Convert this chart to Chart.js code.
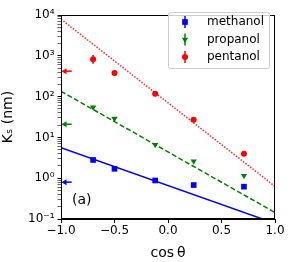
<!DOCTYPE html>
<html>
<head>
<meta charset="utf-8">
<script src="https://cdn.jsdelivr.net/npm/chart.js@4.4.0/dist/chart.umd.min.js"></script>
<style>
  html, body { margin: 0; padding: 0; background: #fff; }
  #wrap { width: 291px; height: 262px; }
</style>
</head>
<body>
<div id="wrap"><canvas id="ksChart" width="291" height="262"></canvas></div>
<script>
const cosTheta = [-0.7, -0.5, -0.12, 0.24, 0.71];
const methanolKs = [2.8, 1.7, 0.88, 0.68, 0.62];
const propanolKs = [55, 29, 6.6, 2.6, 1.15];
const pentanolKs = [820, 380, 118, 27, 4.0];
const pentanolLow = [640, 320, 108, 24, 3.6];
const pentanolHigh = [1050, 450, 130, 30, 4.4];

// fitted lines, values at cos = -1 and cos = 1
const fitX = [-1, 1];
const methanolFit = [5.6, 0.078];
const propanolFit = [135, 0.144];
const pentanolFit = [7900, 0.63];

// reference values marked by arrows on the left axis
const arrowKs = [420, 21, 0.8];
const arrowColors = ['#ff0000', '#008000', '#0000ff'];

const seriesNames = ['methanol', 'propanol', 'pentanol'];
const seriesColors = ['#0000ff', '#008000', '#ff0000'];
const xTicks = [-1, -0.5, 0, 0.5, 1];
const yMajor = [0.1, 1, 10, 100, 1000, 10000];
const yMajorLabels = ['10\u207B\u00B9', '10\u2070', '10\u00B9', '10\u00B2', '10\u00B3', '10\u2074'];

const FONT = 'DejaVu Sans';
const markerStyles = ['rect', 'triangle', 'circle'];
const markerRadius = [4, 3.6, 3];

function pts(xs, ys) {
    return xs.map((x, i) => ({ x: x, y: ys[i] }));
}

const extras = {
    id: 'extras',
    afterDatasetsDraw(chart) {
        const ctx = chart.ctx;
        const xs = chart.scales.x, ys = chart.scales.y;
        const a = chart.chartArea;
        ctx.save();

        // error bars for pentanol
        ctx.strokeStyle = '#ff0000';
        ctx.lineWidth = 1.5;
        cosTheta.forEach((c, i) => {
            const px = xs.getPixelForValue(c);
            ctx.beginPath();
            ctx.moveTo(px, ys.getPixelForValue(pentanolLow[i]));
            ctx.lineTo(px, ys.getPixelForValue(pentanolHigh[i]));
            ctx.stroke();
        });

        // arrows pointing at the axis
        arrowKs.forEach((v, i) => {
            const py = ys.getPixelForValue(v);
            const x0 = xs.getPixelForValue(-0.995);
            const x1 = xs.getPixelForValue(-0.9);
            ctx.strokeStyle = arrowColors[i];
            ctx.fillStyle = arrowColors[i];
            ctx.lineWidth = 1.5;
            ctx.beginPath();
            ctx.moveTo(x0 + 3, py);
            ctx.lineTo(x1, py);
            ctx.stroke();
            ctx.beginPath();
            ctx.moveTo(x0, py);
            ctx.lineTo(x0 + 5, py - 3);
            ctx.lineTo(x0 + 5, py + 3);
            ctx.closePath();
            ctx.fill();
        });

        // box around the plot
        ctx.strokeStyle = '#000';
        ctx.lineWidth = 1;
        ctx.strokeRect(a.left + 0.5, a.top + 0.5, a.right - a.left - 1, a.bottom - a.top - 1);

        // panel label
        ctx.fillStyle = '#000';
        ctx.font = '14px "' + FONT + '"';
        ctx.textBaseline = 'middle';
        ctx.textAlign = 'left';
        ctx.fillText('(a)', a.left + 11, a.bottom - 19);

        // legend
        const lx = 168, ly = 12, lw = 101, lh = 56;
        ctx.fillStyle = 'rgba(255,255,255,0.8)';
        ctx.strokeStyle = '#cccccc';
        ctx.lineWidth = 1;
        ctx.beginPath();
        ctx.roundRect(lx + 0.5, ly + 0.5, lw, lh, 2);
        ctx.fill();
        ctx.stroke();
        seriesNames.forEach((name, i) => {
            const yy = ly + 10 + i * 17.5;
            const mx = lx + 17;
            ctx.strokeStyle = seriesColors[i];
            ctx.lineWidth = 1.5;
            ctx.beginPath();
            ctx.moveTo(mx, yy - 6);
            ctx.lineTo(mx, yy + 6);
            ctx.stroke();
            ctx.fillStyle = seriesColors[i];
            Chart.helpers.drawPoint(ctx, {
                pointStyle: markerStyles[i], radius: markerRadius[i], borderWidth: 0,
                rotation: i === 1 ? 180 : 0
            }, mx, yy);
            ctx.fillStyle = '#000';
            ctx.font = '12px "' + FONT + '"';
            ctx.textAlign = 'left';
            ctx.fillText(name, lx + 39, yy);
        });
        ctx.restore();
    }
};

const ctx = document.getElementById('ksChart').getContext('2d');
const ksChart = new Chart(ctx, {
    type: 'scatter',
    data: {
        datasets: [
            {
                type: 'line', data: pts(fitX, methanolFit), borderColor: '#0000ff',
                borderWidth: 1.5, pointRadius: 0, fill: false
            },
            {
                type: 'line', data: pts(fitX, propanolFit), borderColor: '#008000',
                borderWidth: 1.5, borderDash: [5, 2.5], pointRadius: 0, fill: false
            },
            {
                type: 'line', data: pts(fitX, pentanolFit), borderColor: 'rgba(255,0,0,0.85)',
                borderWidth: 1.5, borderDash: [1.5, 1.5], pointRadius: 0, fill: false
            },
            {
                label: seriesNames[0], data: pts(cosTheta, methanolKs),
                pointStyle: 'rect', pointRadius: markerRadius[0], backgroundColor: '#0000ff', borderWidth: 0
            },
            {
                label: seriesNames[1], data: pts(cosTheta, propanolKs),
                pointStyle: 'triangle', rotation: 180, pointRadius: markerRadius[1], backgroundColor: '#008000', borderWidth: 0
            },
            {
                label: seriesNames[2], data: pts(cosTheta, pentanolKs),
                pointStyle: 'circle', pointRadius: markerRadius[2], backgroundColor: '#ff0000', borderWidth: 0
            }
        ]
    },
    options: {
        responsive: false,
        animation: false,
        layout: { padding: { left: 0, right: 16, top: 15, bottom: 0 } },
        plugins: { legend: { display: false }, tooltip: { enabled: false } },
        scales: {
            x: {
                type: 'linear', min: -1, max: 1,
                afterBuildTicks: s => { s.ticks = xTicks.map(v => ({ value: v })); },
                afterFit: s => { s.height = 43; },
                ticks: {
                    color: '#000', font: { family: FONT, size: 12 }, padding: 1,
                    maxRotation: 0,
                    callback: v => v.toFixed(1).replace('-', '\u2212')
                },
                grid: { drawOnChartArea: false, tickLength: 4, color: '#000' },
                border: { color: '#000' },
                title: {
                    display: true, text: 'cos\u2009\u03B8', color: '#000',
                    font: { family: FONT, size: 14 }, padding: { top: 2, bottom: 0 }
                }
            },
            y: {
                type: 'logarithmic', min: 0.1, max: 10000,
                afterBuildTicks: s => {
                    const t = [];
                    for (let e = -1; e < 4; e++) {
                        for (let m = 1; m < 10; m++) t.push({ value: m * Math.pow(10, e) });
                    }
                    t.push({ value: 10000 });
                    s.ticks = t;
                },
                afterFit: s => { s.width = 61; },
                ticks: {
                    color: '#000', font: { family: FONT, size: 12 }, padding: 3,
                    autoSkip: false,
                    callback: function(v) {
                        const i = yMajor.findIndex(m => Math.abs(m - v) / m < 1e-6);
                        return i >= 0 ? yMajorLabels[i] : '';
                    }
                },
                grid: {
                    drawOnChartArea: false, tickLength: 3.5,
                    color: '#000',
                    tickWidth: c => yMajor.some(m => Math.abs(m - c.tick.value) / m < 1e-6) ? 1 : 0.6
                },
                border: { color: '#000' },
                title: {
                    display: true, text: 'K\u209B (nm)', color: '#000',
                    font: { family: FONT, size: 14 }, padding: { top: 0, bottom: 2 }
                }
            }
        }
    },
    plugins: [extras]
});
</script>
</body>
</html>
